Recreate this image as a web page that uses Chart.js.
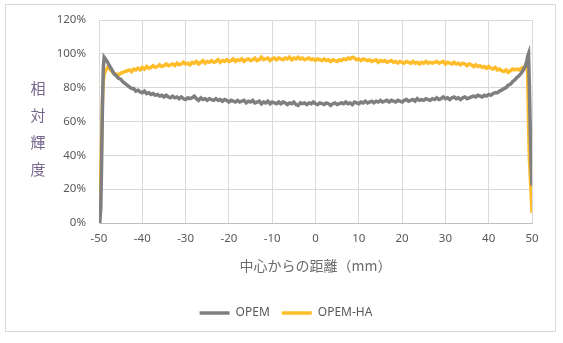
<!DOCTYPE html>
<html>
<head>
<meta charset="utf-8">
<script src="https://cdn.jsdelivr.net/npm/chart.js@4/dist/chart.umd.min.js"></script>
<style>
html,body{margin:0;padding:0;background:#fff;}
#wrap{position:relative;width:563px;height:343px;}
#frame{position:absolute;left:5px;top:4px;width:551px;height:328px;border:1px solid #d9d9d9;box-sizing:border-box;}
#ytitle{position:absolute;left:29px;top:74px;width:18px;font-family:"Noto Sans CJK JP";font-size:15px;line-height:27px;color:#76678c;text-align:center;}
canvas{position:absolute;left:0;top:0;}
</style>
</head>
<body>
<div id="wrap">
<div id="frame"></div>
<canvas id="c" width="563" height="343"></canvas>
<div id="ytitle">相<br>対<br>輝<br>度</div>
</div>
<script>
// distance from centre (mm)
const edgeLeftDist = [-50, -49.8, -49.6, -49.4, -49.2, -49.0, -48.8, -48.5];
const edgeRightDist = [48.5, 48.8, 49.0, 49.2, 49.4, 49.6, 49.8, 50];
// body: -48 .. 48 step 0.5
const bodyStart = -48, bodyStep = 0.5;

const opemLeft = [1, 2, 8, 35, 70, 92, 98, 97];
const opemBody = [
 95, 92.5, 90.5, 88, 87, 85.5, 85, 83.5, 82.5, 81.5,
 80.5, 79.5, 79.5, 78, 78.5, 77.5, 77, 78, 76.5, 77,
 76, 76.5, 75.5, 76, 75, 75.5, 74.5, 75.5, 74.5, 74,
 75, 74, 74.5, 73.5, 74.5, 73.5, 73, 74, 73.5, 74,
 75, 73.5, 72.5, 74, 73, 73.5, 72.5, 73.5, 73, 72.5,
 73.5, 72.5, 73, 72, 73, 72.5, 71.5, 72.5, 72, 71.5,
 72.5, 71.5, 72, 72.5, 71, 72, 71.5, 72.5, 71, 71.5,
 72, 70.5, 71.5, 71, 72, 70.5, 71.5, 71, 70.5, 71.5,
 70.5, 71.5, 71, 70, 71, 70.5, 71.5, 70, 69.5, 71,
 70.5, 71, 70, 71, 70.5, 71.5, 70.5, 70, 71, 70.5,
 70, 71, 70.5, 69.5, 70.5, 71, 70, 70.5, 71, 70.5,
 71.5, 70.5, 71, 70, 71.5, 71, 70.5, 71.5, 71, 72,
 71, 71.5, 72, 71, 72, 71.5, 72.5, 71.5, 72, 72.5,
 71.5, 72.5, 72, 71.5, 72.5, 72, 71.5, 72.5, 73, 72,
 72.5, 73, 72, 73.5, 72.5, 73, 72.5, 73.5, 73, 72.5,
 73.5, 73, 74, 73, 73.5, 74.5, 73.5, 74, 73, 74,
 74.5, 73.5, 74, 73, 74, 74.5, 73.5, 74, 74.5, 75,
 74.5, 75.5, 75, 74.5, 75.5, 75, 76, 75.5, 76.5, 77,
 77, 78, 78.5, 79.5, 80, 81.5, 82, 83.5, 84.5, 86,
 87, 88.5, 90.5
];
const opemRight = [93, 96, 98.5, 100, 80, 55, 35, 22];

const opemHaLeft = [3, 25, 28, 50, 72, 84, 88, 90];
const opemHaBody = [
 92, 91, 89.5, 88.5, 88, 87.5, 88.5, 89, 89.5, 90,
 90.5, 89.5, 91, 90.5, 91.5, 90.5, 92, 91, 92.5, 91.5,
 92, 93, 92, 92.5, 93.5, 92.5, 93, 94, 93, 93.5,
 94, 93, 94.5, 93.5, 94, 95, 94, 94.5, 93.5, 95,
 94.5, 95.5, 94, 95, 96, 94.5, 95.5, 95, 96, 95,
 95.5, 96.5, 95, 96, 95.5, 96.5, 95.5, 96, 97, 95.5,
 96.5, 96, 97, 95.5, 96.5, 97, 96, 96.5, 97.5, 96,
 96.5, 98, 96.5, 97, 97.5, 96, 97, 97.5, 96.5, 97.5,
 97, 96.5, 97.5, 97, 98, 96.5, 97.5, 97, 98, 97,
 97.5, 96.5, 97, 97.5, 96.5, 97, 96, 97, 96.5, 96,
 97, 96, 96.5, 95.5, 96.5, 96, 95.5, 96.5, 96, 97,
 96.5, 97.5, 97, 98, 97.5, 96.5, 97, 96, 97, 96.5,
 96, 96.5, 95.5, 96, 96.5, 95, 96, 95.5, 96, 95,
 95.5, 96, 95, 95.5, 94.5, 95.5, 95, 94.5, 95.5, 95,
 94.5, 95.5, 94.5, 95, 94, 95, 94.5, 95.5, 94.5, 95,
 94.5, 95, 95.5, 94.5, 95, 95.5, 94, 95, 94.5, 94,
 95, 94, 94.5, 93.5, 94.5, 94, 93, 94, 93.5, 92.5,
 93.5, 92.5, 93, 92, 92.5, 91.5, 92.5, 91.5, 91, 92,
 90.5, 91, 90, 89.5, 90.5, 89, 90, 91, 90.5, 91,
 90.5, 91.5, 92
];
const opemHaRight = [92.5, 93, 88, 60, 38, 28, 18, 6];

const seriesNames = ['OPEM', 'OPEM-HA'];
const xTicks = [-50, -40, -30, -20, -10, 0, 10, 20, 30, 40, 50];
const yTicks = [0, 20, 40, 60, 80, 100, 120];

const bodyDist = opemBody.map((_, i) => bodyStart + i * bodyStep);
const dist = edgeLeftDist.concat(bodyDist, edgeRightDist);
const opem = opemLeft.concat(opemBody, opemRight);
const opemHa = opemHaLeft.concat(opemHaBody, opemHaRight);
const pts = arr => arr.map((v, i) => ({x: dist[i], y: v}));

const tickFont = {family: 'Noto Sans', size: 11.5};
new Chart(document.getElementById('c'), {
  type: 'line',
  data: {
    datasets: [
      {label: seriesNames[0], data: pts(opem), borderColor: '#7f7f7f', backgroundColor: '#7f7f7f', borderWidth: 3.5, pointRadius: 0, tension: 0},
      {label: seriesNames[1], data: pts(opemHa), borderColor: '#ffbc2b', backgroundColor: '#ffbc2b', borderWidth: 3.5, pointRadius: 0, tension: 0}
    ]
  },
  options: {
    responsive: false,
    animation: false,
    events: [],
    layout: {padding: {left: 40, right: 31, top: 20, bottom: 14}},
    plugins: {
      tooltip: {enabled: false},
      legend: {
        position: 'bottom',
        labels: {
          usePointStyle: true, pointStyle: 'line', pointStyleWidth: 30, boxHeight: 3,
          font: {family: 'Noto Sans', size: 12}, color: '#595959', padding: 12
        }
      }
    },
    scales: {
      x: {
        type: 'linear', min: -50, max: 50,
        afterBuildTicks: s => { s.ticks = xTicks.map(v => ({value: v})); },
        afterFit: s => { s.height = 72; },
        grid: {color: '#d9d9d9', drawTicks: false},
        border: {color: '#bfbfbf'},
        ticks: {font: tickFont, color: '#595959', padding: 9, maxRotation: 0},
        title: {display: true, text: '中心からの距離（mm）', font: {family: 'Noto Sans CJK JP', size: 14}, color: '#6b6b6b', padding: {top: 6, bottom: 21}}
      },
      y: {
        min: 0, max: 120,
        afterBuildTicks: s => { s.ticks = yTicks.map(v => ({value: v})); },
        afterFit: s => { s.width = 59; },
        grid: {color: '#d9d9d9', drawTicks: false},
        border: {color: '#d9d9d9'},
        ticks: {font: tickFont, color: '#595959', padding: 13, callback: v => v + '%'}
      }
    }
  }
});
</script>
</body>
</html>
